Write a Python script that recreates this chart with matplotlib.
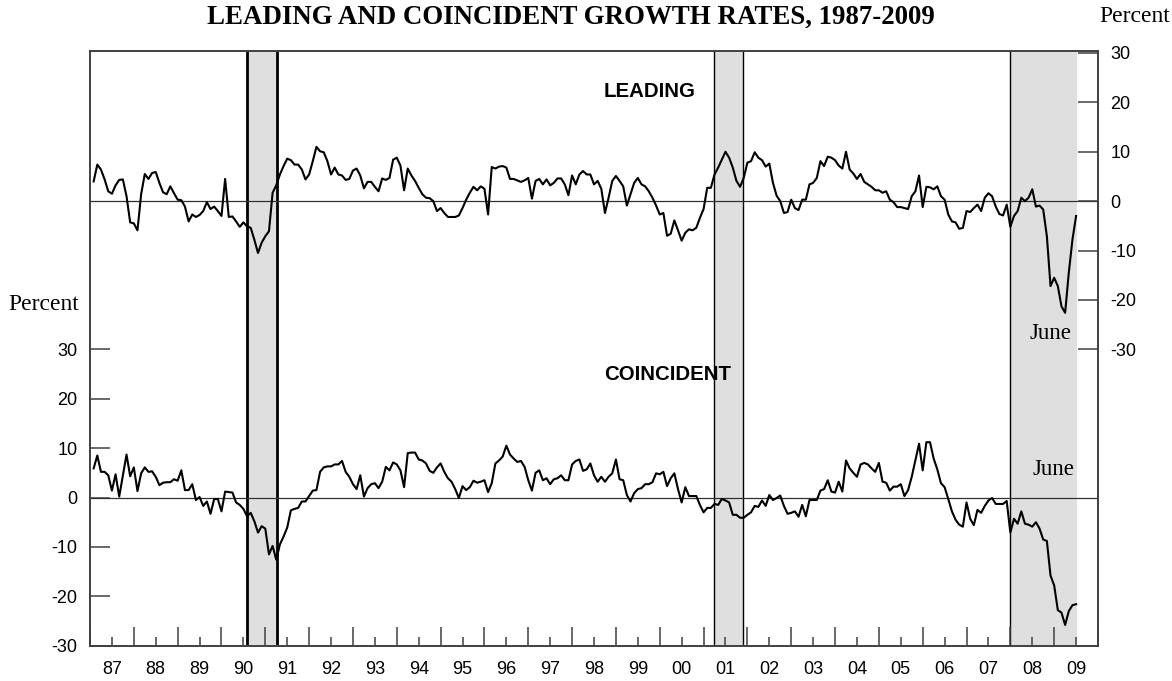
import matplotlib
matplotlib.use("Agg")
import matplotlib.pyplot as plt
import numpy as np

# monthly growth rates, Jan 1987 .. Jun 2009 (percent, annualized)
START_YEAR = 1987
LEADING = [
    4.0, 7.4, 6.4, 4.4, 2.0, 1.5, 3.2, 4.3, 4.4, 1.0, -4.3, -4.5,
    -5.9, 1.4, 5.5, 4.5, 5.7, 5.9, 3.7, 1.8, 1.4, 3.0, 1.6, 0.3,
    0.2, -1.1, -4.1, -2.7, -3.2, -2.8, -2.0, -0.2, -1.6, -1.1, -2.0, -3.0,
    4.5, -3.2, -3.1, -4.1, -5.2, -4.3, -5.1, -5.4, -7.8, -10.5, -8.4, -7.1,
    -6.1, 1.7, 3.2, 5.4, 7.1, 8.6, 8.3, 7.4, 7.4, 6.4, 4.4, 5.4,
    8.1, 11.0, 10.1, 9.9, 8.1, 5.4, 6.8, 5.4, 5.2, 4.3, 4.5, 6.2,
    6.6, 5.2, 2.6, 3.9, 3.9, 2.9, 2.0, 4.6, 4.3, 4.7, 8.4, 8.8,
    7.2, 2.2, 6.6, 5.2, 4.1, 2.7, 1.4, 0.7, 0.6, 0.0, -2.0, -1.4,
    -2.4, -3.2, -3.2, -3.2, -2.9, -1.4, 0.3, 1.7, 2.9, 2.2, 3.0, 2.5,
    -2.7, 6.9, 6.6, 7.0, 7.1, 6.8, 4.5, 4.5, 4.2, 3.9, 4.2, 4.7,
    0.5, 4.1, 4.5, 3.4, 4.4, 3.2, 3.7, 4.6, 4.6, 3.4, 1.2, 5.2,
    3.4, 5.4, 6.1, 5.4, 5.4, 3.4, 4.1, 2.5, -2.4, 0.7, 4.1, 5.1,
    4.1, 3.0, -0.9, 1.4, 3.7, 4.7, 3.4, 3.0, 2.0, 0.7, -0.9, -2.7,
    -2.4, -7.0, -6.6, -3.9, -5.9, -8.0, -6.4, -5.7, -5.9, -5.4, -3.4, -1.6,
    2.7, 2.7, 5.4, 6.8, 8.4, 10.0, 8.8, 6.8, 4.1, 2.9, 4.7, 7.8,
    8.1, 9.9, 8.8, 8.3, 7.0, 7.6, 3.7, 1.1, 0.0, -2.4, -2.2, 0.3,
    -1.4, -1.8, 0.3, 0.3, 3.4, 3.7, 4.7, 8.1, 7.1, 9.0, 8.8, 8.3,
    7.2, 6.6, 10.0, 6.4, 5.6, 4.5, 5.5, 3.9, 3.4, 2.9, 2.2, 2.2,
    1.7, 2.0, 0.3, -0.2, -1.2, -1.2, -1.4, -1.6, 1.0, 2.0, 5.2, -1.2,
    2.9, 2.8, 2.4, 3.0, 1.0, 0.3, -2.7, -4.1, -4.3, -5.6, -5.4, -2.0,
    -2.2, -1.4, -0.7, -2.0, 0.7, 1.6, 1.0, -1.1, -2.6, -2.9, -0.7, -5.2,
    -3.0, -2.0, 0.7, 0.0, 0.7, 2.4, -1.1, -0.9, -1.7, -7.1, -17.2, -15.5,
    -17.2, -21.3, -22.6, -14.5, -7.8, -3.0,
]
COINCIDENT = [
    5.9, 8.5, 5.2, 5.2, 4.5, 1.4, 4.7, 0.2, 4.5, 8.7, 4.3, 6.1,
    1.3, 4.9, 6.1, 5.2, 5.3, 4.2, 2.5, 3.0, 3.1, 3.1, 3.7, 3.4,
    5.5, 1.5, 1.5, 2.7, -0.5, 0.1, -1.7, -0.8, -3.3, -0.3, -0.3, -2.8,
    1.2, 1.1, 1.0, -1.0, -1.5, -2.3, -3.8, -3.1, -4.8, -7.1, -5.8, -6.3,
    -11.5, -9.8, -12.6, -9.5, -7.9, -6.1, -2.6, -2.3, -2.1, -0.8, -0.8, 0.3,
    1.4, 1.5, 5.2, 6.1, 6.3, 6.3, 6.7, 6.7, 7.4, 5.2, 4.2, 2.7,
    1.7, 4.5, 0.2, 1.9, 2.7, 2.9, 1.9, 3.2, 6.2, 5.5, 7.1, 6.7,
    5.5, 2.1, 9.0, 9.1, 9.1, 7.7, 7.5, 6.9, 5.4, 5.0, 6.1, 6.9,
    5.2, 3.9, 3.2, 1.7, -0.1, 2.3, 1.5, 2.1, 3.4, 3.0, 3.2, 3.5,
    1.1, 2.9, 6.9, 7.5, 8.3, 10.5, 8.7, 7.9, 7.2, 7.4, 6.2, 3.5,
    1.4, 5.0, 5.5, 3.5, 3.9, 2.7, 3.7, 3.9, 4.5, 3.5, 3.5, 6.7,
    7.4, 7.7, 5.4, 5.7, 6.9, 4.5, 3.2, 4.2, 3.2, 4.2, 4.9, 7.7,
    3.7, 3.5, 0.5, -0.8, 0.9, 1.7, 1.9, 2.7, 2.7, 3.1, 4.9, 4.7,
    5.2, 2.3, 3.9, 4.9, 1.7, -1.0, 2.1, 0.3, 0.3, 0.3, -1.5, -3.0,
    -2.1, -2.1, -1.3, -1.5, -0.3, -0.6, -1.0, -3.5, -3.5, -4.1, -4.1, -3.5,
    -3.0, -1.7, -1.9, -0.6, -1.7, 0.5, -0.5, -0.1, 0.4, -1.7, -3.3, -3.1,
    -2.8, -3.9, -1.5, -3.8, -0.5, -0.5, -0.5, 1.4, 1.7, 3.5, 1.2, 1.0,
    3.2, 1.2, 7.5, 5.9, 5.0, 4.2, 6.7, 7.0, 6.7, 5.9, 5.2, 7.0,
    3.2, 3.0, 1.4, 2.2, 2.2, 2.7, 0.3, 1.5, 4.2, 7.5, 10.9, 5.5,
    11.2, 11.2, 7.9, 5.7, 2.9, 2.1, -0.3, -2.8, -4.5, -5.5, -5.9, -1.0,
    -4.3, -5.6, -2.5, -3.1, -1.7, -0.6, -0.1, -1.3, -1.3, -1.3, -0.7, -7.1,
    -4.3, -5.3, -2.8, -5.3, -5.5, -5.9, -5.0, -6.3, -8.5, -8.8, -15.8, -17.8,
    -22.8, -23.3, -25.8, -23.0, -21.8, -21.6,
]
# NBER recessions (decimal years) -- last one runs to the latest month
RECESSIONS = [(1990.49, 1991.18), (2001.16, 2001.82), (2007.91, 2009.43)]
YEAR_LABELS = ["87", "88", "89", "90", "91", "92", "93", "94", "95", "96", "97", "98",
               "99", "00", "01", "02", "03", "04", "05", "06", "07", "08", "09"]
TICKS = [-30, -20, -10, 0, 10, 20, 30]

LEAD_SHIFT = 60          # leading panel sits 60 points above coincident
SANS = "Liberation Sans"
SERIF = "Liberation Serif"
SHADE = "#dfdfdf"
FRAME = "#404040"
W, H = 1172, 681


def fx(px):
    return px / W


def fy(py):
    return 1 - py / H


t = START_YEAR + np.arange(len(LEADING)) / 12.0

fig = plt.figure(figsize=(W / 100, H / 100), dpi=100)
ax = fig.add_axes([fx(90), fy(645.7), 1008 / W, 594.7 / H])
x0, x1 = START_YEAR - 1 / 12, 2010 - 1 / 12
ax.set_xlim(x0, x1)
ax.set_ylim(-30, 90.4)

# recession shading; first band boxed heavy, second thin, last open on the right
edges = [(2.0, 2.0), (1.0, 1.0), (1.0, 0)]
for (a, b), (lw_a, lw_b) in zip(RECESSIONS, edges):
    ax.axvspan(a, b, color=SHADE, lw=0, zorder=0)
    ax.axvline(a, color="black", lw=lw_a, zorder=1)
    if lw_b:
        ax.axvline(b, color="black", lw=lw_b, zorder=1)

ax.axhline(0, color="#303030", lw=0.9, zorder=2)
ax.axhline(LEAD_SHIFT, color="#303030", lw=0.9, zorder=2)
ax.plot(t, np.array(LEADING) + LEAD_SHIFT, color="black", lw=1.5, zorder=3)
ax.plot(t, COINCIDENT, color="black", lw=1.5, zorder=3)

for s in ax.spines.values():
    s.set_color(FRAME)
    s.set_linewidth(1.2)

# left axis: coincident
ax.set_yticks(TICKS)
ax.set_yticklabels([str(v) for v in TICKS], fontfamily=SANS, fontsize=13)
ax.tick_params(axis="y", direction="in", length=14.4, width=1.1, color=FRAME, pad=9)

# bottom axis: year boundaries tall, mid-year short and labelled
years = np.arange(START_YEAR, 2011)
ax.set_xticks(years - 1 / 12)
ax.set_xticklabels([])
ax.set_xticks(years[:-1] + 0.5 - 1 / 12, minor=True)
ax.set_xticklabels(YEAR_LABELS, minor=True, fontfamily=SANS, fontsize=13)
ax.tick_params(axis="x", which="major", direction="in", length=13.7, width=1.1, color=FRAME)
ax.tick_params(axis="x", which="minor", direction="in", length=6.5, width=1.1, color=FRAME, pad=11)

# right axis: leading
ax2 = ax.twinx()
ax2.set_ylim(-30 - LEAD_SHIFT, 90.4 - LEAD_SHIFT)
ax2.set_yticks(TICKS)
ax2.set_yticklabels([str(v) for v in TICKS], fontfamily=SANS, fontsize=13)
ax2.tick_params(axis="y", direction="in", length=14.4, width=1.1, color=FRAME, pad=9)
for s in ax2.spines.values():
    s.set_color(FRAME)
    s.set_linewidth(1.2)

ax.text(0.5556, 0.9327, "LEADING", transform=ax.transAxes, ha="center", va="center",
        fontfamily=SANS, fontweight="bold", fontsize=14.7)
ax.text(0.5734, 0.4552, "COINCIDENT", transform=ax.transAxes, ha="center", va="center",
        fontfamily=SANS, fontweight="bold", fontsize=14.7)
fig.text(fx(1050), fy(339), "June", ha="center", va="baseline", fontfamily=SERIF, fontsize=16.5)
fig.text(fx(1053), fy(475), "June", ha="center", va="baseline", fontfamily=SERIF, fontsize=16.5)

fig.text(fx(8), fy(310), "Percent", ha="left", va="baseline", fontfamily=SERIF, fontsize=17)
fig.text(fx(1170), fy(22), "Percent", ha="right", va="baseline", fontfamily=SERIF, fontsize=17)
fig.text(fx(571), fy(24), "LEADING AND COINCIDENT GROWTH RATES, 1987-2009",
         ha="center", va="baseline", fontfamily=SERIF, fontweight="bold", fontsize=19.4)

fig.savefig("out.png", dpi=100)
